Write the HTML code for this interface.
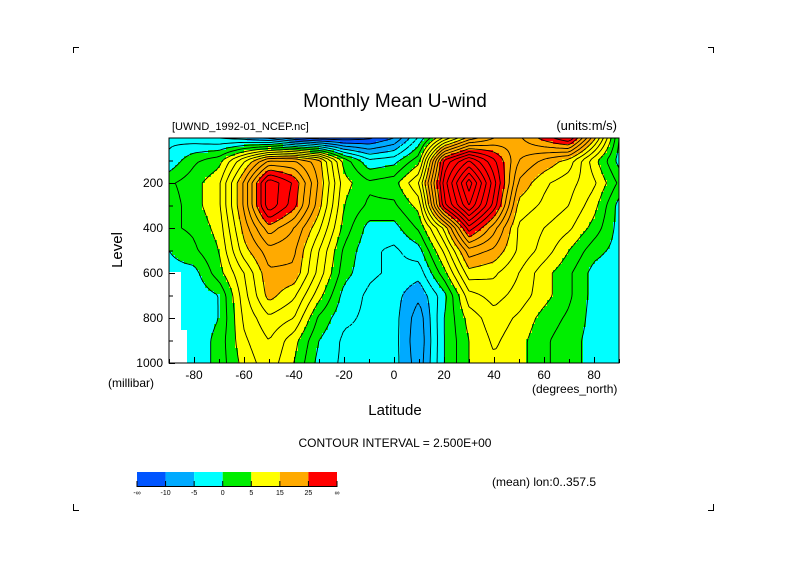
<!DOCTYPE html>
<html><head><meta charset="utf-8">
<style>
html,body{margin:0;padding:0;background:#fff;}
body{width:789px;height:558px;position:relative;overflow:hidden;font-family:"Liberation Sans",sans-serif;}
svg text{font-family:"Liberation Sans",sans-serif;fill:#000;}
</style></head>
<body>
<svg id="chart" width="789" height="558" viewBox="0 0 789 558">
  <g id="fills"></g>
  <g id="lines"></g>
  <g>
    <rect x="169" y="272" width="12" height="58" fill="#fff"/>
    <rect x="169" y="330" width="18" height="33" fill="#fff"/>
  </g>
  <rect x="169" y="138" width="450" height="225" fill="none" stroke="#000" stroke-width="1"/>
  <g id="axes"></g>
  <text x="395" y="107" font-size="19" text-anchor="middle">Monthly Mean U-wind</text>
  <text x="172" y="130" font-size="11">[UWND_1992-01_NCEP.nc]</text>
  <text x="617" y="130" font-size="13" text-anchor="end">(units:m/s)</text>
  <text transform="translate(122,250) rotate(-90)" font-size="15" text-anchor="middle">Level</text>
  <text x="108" y="387" font-size="12">(millibar)</text>
  <text x="532" y="393" font-size="12">(degrees_north)</text>
  <text x="395" y="415" font-size="15" text-anchor="middle">Latitude</text>
  <text x="395" y="447" font-size="12" text-anchor="middle">CONTOUR INTERVAL = 2.500E+00</text>
  <text x="492" y="486" font-size="12">(mean) lon:0..357.5</text>
  <g id="cbar"></g>
  <g stroke="#000" stroke-width="1" fill="none">
    <path d="M73.5 53V47.5H79"/><path d="M713.5 53V47.5H708"/>
    <path d="M73.5 504V510.5H79"/><path d="M713.5 504V510.5H708"/>
  </g>
</svg>
<script>
const lats = [-90,-80,-70,-60,-50,-40,-30,-20,-10,0,10,20,30,40,50,60,70,80,90];
const levels = [0,100,200,300,400,500,600,700,800,900,1000];
const uwind = [
 [-3,-4,-5,-6,-8,-12,-14,-14,-13,-10,-2,8,16,20,22,26,30,16,0],
 [-2,2,4,12,20,20,16,4,-2,-1,4,28,35,28,20,17,14,6,-1],
 [2,4,7,18,32,27,17,6,3,4,10,31,44,31,17,13,11,8,2],
 [1,4,7,18,32,26,16,5,2,2,6,29,40,29,14,12,10,6,-1],
 [2,3,6,16,24,20,13,4,-1,-1,3,13,29,21,12,10,8,4,-1],
 [0,2,5,14,19,18,10,2,-2,-3,-1,8,19,17,12,9,5,1,-1],
 [-1,-1,4,10,17,17,9,1,-2,-3,-4,4,14,13,10,6,3,-1,-2],
 [-2,-2,0,9,16,13,6,-1,-3,-4,-7,-1,9,11,9,6,3,-1,-2],
 [-2,-2,0,8,12,10,2,-2,-3,-4,-9,0,6,9,7,4,2,-1,-2],
 [-2,-2,1,7,10,6,0,-3,-3,-4,-9.5,0,5,8,6,3,1,-1,-2],
 [-2,-2,1,6,9,5,-1,-3,-3,-4,-9,0,5,7,6,3,1,-1,-2]
];
const colorBounds = [-10,-5,0,5,15,25];
const colors = ["#0055ff","#00aaff","#00ffff","#00ee00","#ffff00","#ffaa00","#ff0000"];
const cbarLabels = ["-\u221e","-10","-5","0","5","15","25","\u221e"];
const xTicks = [-80,-60,-40,-20,0,20,40,60,80];
const yTicks = [200,400,600,800,1000];

const X0=169,X1=619,Y0=138,Y1=363;
const xScale = lat => X0 + (lat-lats[0])/(lats[lats.length-1]-lats[0])*(X1-X0);
const yScale = lev => Y0 + (lev-levels[0])/(levels[levels.length-1]-levels[0])*(Y1-Y0);
const NS="http://www.w3.org/2000/svg";
function field(lat,lev){
  let i=0; while(i<lats.length-2 && lat>lats[i+1]) i++;
  let j=0; while(j<levels.length-2 && lev>levels[j+1]) j++;
  const tx=(lat-lats[i])/(lats[i+1]-lats[i]), ty=(lev-levels[j])/(levels[j+1]-levels[j]);
  const a=uwind[j][i],b=uwind[j][i+1],c=uwind[j+1][i],d=uwind[j+1][i+1];
  return a*(1-tx)*(1-ty)+b*tx*(1-ty)+c*(1-tx)*ty+d*tx*ty;
}
function colorOf(v){let k=0;while(k<colorBounds.length && v>=colorBounds[k])k++;return colors[k];}

const STEP=3;
const nx=Math.ceil((X1-X0)/STEP), ny=Math.ceil((Y1-Y0)/STEP);
const latOf = px => lats[0]+(px-X0)/(X1-X0)*(lats[lats.length-1]-lats[0]);
const levOf = py => levels[0]+(py-Y0)/(Y1-Y0)*(levels[levels.length-1]-levels[0]);
const fills=document.getElementById('fills');
for(let r=0;r<ny;r++){
  for(let c=0;c<nx;c++){
    const px=X0+c*STEP, py=Y0+r*STEP;
    const v=field(latOf(px+STEP/2),levOf(py+STEP/2));
    const el=document.createElementNS(NS,'rect');
    el.setAttribute('x',px);el.setAttribute('y',py);
    el.setAttribute('width',Math.min(STEP,X1-px)+0.3);el.setAttribute('height',Math.min(STEP,Y1-py)+0.3);
    el.setAttribute('fill',colorOf(v));
    
    
    fills.appendChild(el);
  }
}
const gx=nx+1, gy=ny+1, G=[];
for(let r=0;r<gy;r++){G.push([]);for(let c=0;c<gx;c++){const px=Math.min(X0+c*STEP,X1),py=Math.min(Y0+r*STEP,Y1);G[r].push({x:px,y:py,v:field(latOf(px),levOf(py))});}}
const lines=document.getElementById('lines');
for(let L=-15;L<=45;L+=2.5){
  let d='';
  for(let r=0;r<gy-1;r++)for(let c=0;c<gx-1;c++){
    const p=[G[r][c],G[r][c+1],G[r+1][c+1],G[r+1][c]];
    const pts=[];
    for(let e=0;e<4;e++){const a=p[e],b=p[(e+1)%4];
      if((a.v<L)!==(b.v<L)){const t=(L-a.v)/(b.v-a.v);pts.push([a.x+t*(b.x-a.x),a.y+t*(b.y-a.y)]);}}
    for(let k=0;k+1<pts.length;k+=2)d+=`M${pts[k][0].toFixed(1)} ${pts[k][1].toFixed(1)}L${pts[k+1][0].toFixed(1)} ${pts[k+1][1].toFixed(1)}`;
  }
  if(!d)continue;
  const el=document.createElementNS(NS,'path');
  el.setAttribute('d',d);el.setAttribute('fill','none');el.setAttribute('stroke','#000');el.setAttribute('stroke-width','0.9');
  if(L<0)el.setAttribute('stroke-dasharray','3 2');
  
  
  lines.appendChild(el);
}
const axes=document.getElementById('axes');
let td='';
for(let lat=-90;lat<=90;lat+=10){const x=xScale(lat)+0.5;const len=(lat%20===0)?6:4;td+=`M${x} ${Y1}V${Y1-len}`;}
for(let lev=100;lev<=1000;lev+=100){const y=yScale(lev)+0.5;const len=(lev%200===0)?6:4;td+=`M${X0} ${y}H${X0+len}`;}
const tp=document.createElementNS(NS,'path');tp.setAttribute('d',td);tp.setAttribute('stroke','#000');tp.setAttribute('fill','none');


axes.appendChild(tp);
xTicks.forEach(t=>{const el=document.createElementNS(NS,'text');el.setAttribute('x',xScale(t));el.setAttribute('y',379);el.setAttribute('font-size','12');el.setAttribute('text-anchor','middle');el.textContent=t;


axes.appendChild(el);});
yTicks.forEach(t=>{const el=document.createElementNS(NS,'text');el.setAttribute('x',163);el.setAttribute('y',yScale(t)+4);el.setAttribute('font-size','12');el.setAttribute('text-anchor','end');el.textContent=t;


axes.appendChild(el);});
const cb=document.getElementById('cbar');
const cbX=137,cbW=200/7,cbY=472,cbH=14;
colors.forEach((col,i)=>{const el=document.createElementNS(NS,'rect');el.setAttribute('x',cbX+i*cbW);el.setAttribute('y',cbY);el.setAttribute('width',cbW);el.setAttribute('height',cbH);el.setAttribute('fill',col);


cb.appendChild(el);});
const cbo=document.createElementNS(NS,'path');
let cd=`M${cbX} ${cbY+cbH+0.5}H${cbX+200}`;
for(let i=0;i<=7;i++)cd+=`M${cbX+i*cbW} ${cbY+cbH-5}V${cbY+cbH+1}`;
cbo.setAttribute('d',cd);cbo.setAttribute('stroke','#000');cbo.setAttribute('fill','none');


cb.appendChild(cbo);
cbarLabels.forEach((t,i)=>{const el=document.createElementNS(NS,'text');el.setAttribute('x',cbX+i*cbW);el.setAttribute('y',495);el.setAttribute('font-size','7');el.setAttribute('text-anchor','middle');el.textContent=t;


cb.appendChild(el);});
</script>
</body></html>
